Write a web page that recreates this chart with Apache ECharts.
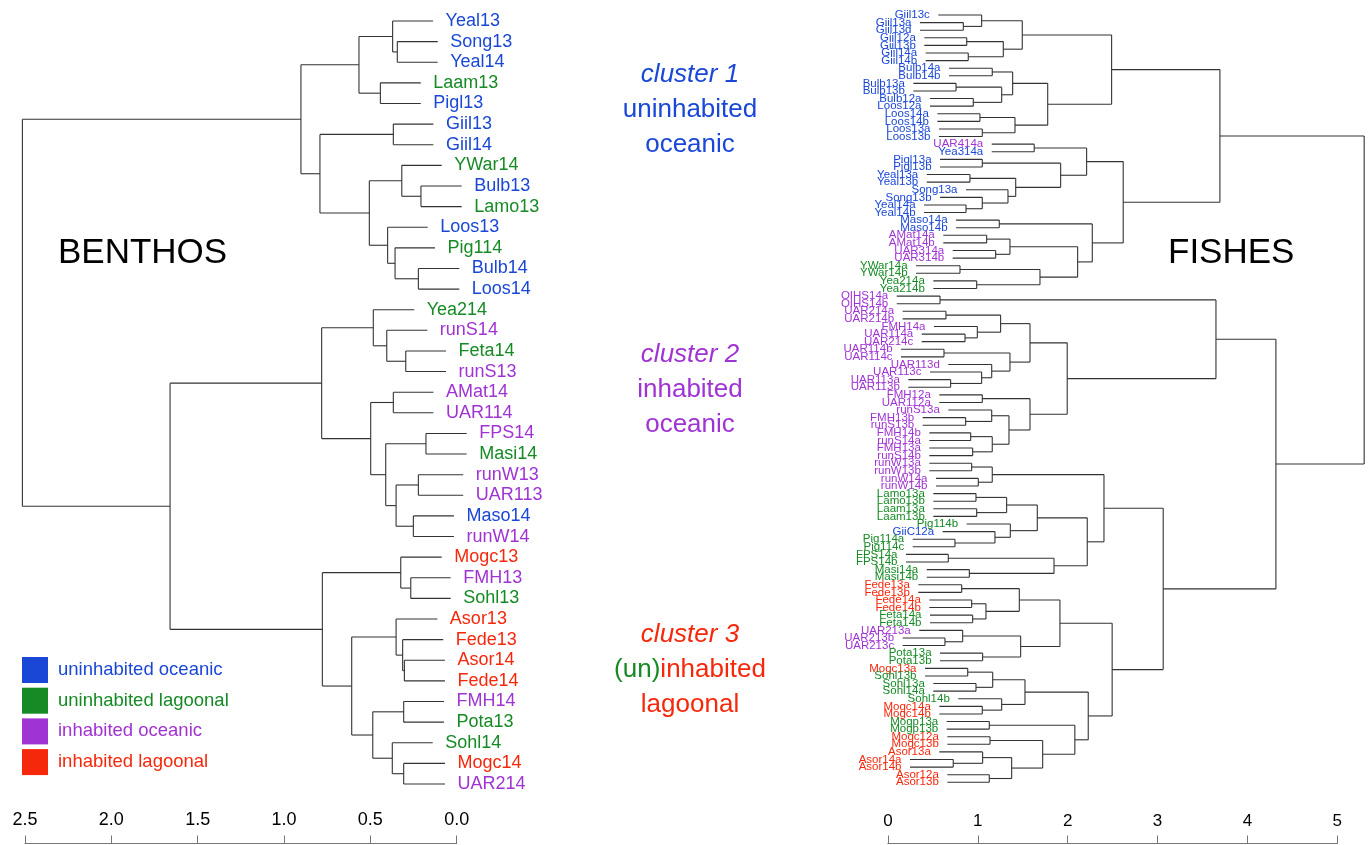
<!DOCTYPE html>
<html>
<head>
<meta charset="utf-8">
<script src="https://cdn.jsdelivr.net/npm/echarts@6/dist/echarts.min.js"></script>
<style>
html,body{margin:0;padding:0;background:#fff;}
#chart{width:1370px;height:845px;}
</style>
</head>
<body>
<div id="chart"></div>
<script>
// ---------- DATA ----------
const groupNames = ['uninhabited oceanic', 'uninhabited lagoonal', 'inhabited oceanic', 'inhabited lagoonal'];
const groupColors = ['#1a47d6', '#168a25', '#a033d3', '#f5280c'];

// BENTHOS dendrogram (height axis 2.5 -> 0)
const benthosLeaves = ['Yeal13','Song13','Yeal14','Laam13','Pigl13','Giil13','Giil14','YWar14','Bulb13','Lamo13','Loos13','Pig114','Bulb14','Loos14',
  'Yea214','runS14','Feta14','runS13','AMat14','UAR114','FPS14','Masi14','runW13','UAR113','Maso14','runW14',
  'Mogc13','FMH13','Sohl13','Asor13','Fede13','Asor14','Fede14','FMH14','Pota13','Sohl14','Mogc14','UAR214'];
const benthosGroups = [0,0,0,1,0,0,0,1,0,1,0,1,0,0, 1,2,1,2,2,2,2,1,2,2,0,2, 3,2,1,3,3,3,3,2,1,1,3,2];
const benthosTips = [0.137,0.110,0.110,0.208,0.208,0.135,0.135,0.087,-0.029,-0.029,0.168,0.126,-0.015,-0.015,
  0.246,0.170,0.062,0.062,0.135,0.135,-0.058,-0.058,-0.038,-0.038,0.016,0.016,
  0.087,0.035,0.035,0.112,0.078,0.068,0.068,0.074,0.074,0.139,0.068,0.068];
// merge rows: [childA, childB, height]; negative = leaf number, positive = earlier merge row
const benthosMerges = [
  [-2,-3,0.344],[-1,1,0.371],[-4,-5,0.442],[2,3,0.566],[-6,-7,0.367],[-9,-10,0.207],[-8,6,0.318],
  [-13,-14,0.222],[-12,8,0.357],[-11,9,0.400],[7,10,0.506],[5,11,0.792],[4,12,0.902],
  [-17,-18,0.295],[-16,14,0.405],[-15,15,0.483],[-19,-20,0.367],[-21,-22,0.178],[-23,-24,0.222],
  [-25,-26,0.251],[19,20,0.351],[18,21,0.411],[17,22,0.498],[16,23,0.782],
  [-28,-29,0.266],[-27,25,0.324],[-32,-33,0.303],[-31,27,0.313],[-30,28,0.351],[-34,-35,0.307],
  [-37,-38,0.307],[-36,31,0.373],[30,32,0.486],[29,33,0.608],[26,34,0.778],[24,35,1.660],[13,36,2.515]
];
const benthosTicks = [0, 0.5, 1.0, 1.5, 2.0, 2.5];

// FISHES dendrogram (height axis 0 -> 5)
const fishLeaves = ['Giil13c','Giil13a','Giil13d','Giil12a','Giil13b','Giil14a','Giil14b','Bulb14a','Bulb14b','Bulb13a',
  'Bulb13b','Bulb12a','Loos12a','Loos14a','Loos14b','Loos13a','Loos13b','UAR414a','Yea314a','Pigl13a',
  'Pigl13b','Yeal13a','Yeal13b','Song13a','Song13b','Yeal14a','Yeal14b','Maso14a','Maso14b','AMat14a',
  'AMat14b','UAR314a','UAR314b','YWar14a','YWar14b','Yea214a','Yea214b','OIHS14a','OIHS14b','UAR214a',
  'UAR214b','FMH14a','UAR114a','UAR214c','UAR114b','UAR114c','UAR113d','UAR113c','UAR113a','UAR113b',
  'FMH12a','UAR112a','runS13a','FMH13b','runS13b','FMH14b','runS14a','FMH13a','runS14b','runW13a',
  'runW13b','runW14a','runW14b','Lamo13a','Lamo13b','Laam13a','Laam13b','Pig114b','GiiC12a','Pig114a',
  'Pig114c','FPS14a','FPS14b','Masi14a','Masi14b','Fede13a','Fede13b','Fede14a','Fede14b','Feta14a',
  'Feta14b','UAR213a','UAR213b','UAR213c','Pota13a','Pota13b','Mogc13a','Sohl13b','Sohl13a','Sohl14a',
  'Sohl14b','Mogc14a','Mogc14b','Mogp13a','Mogp13b','Mogc12a','Mogc13b','Asor13a','Asor14a','Asor14b',
  'Asor12a','Asor13b'];
const fishGroups = [0,0,0,0,0,0,0,0,0,0, 0,0,0,0,0,0,0,2,0,0, 0,0,0,0,0,0,0,0,0,2,
  2,2,2,1,1,1,1,2,2,2, 2,2,2,2,2,2,2,2,2,2, 2,2,2,2,2,2,2,2,2,2,
  2,2,2,1,1,1,1,1,0,1, 1,1,1,1,1,3,3,3,3,1, 1,2,2,2,1,1,3,1,1,1,
  1,3,3,1,1,3,3,3,3,3, 3,3];
const fishTips = [0.561,0.357,0.357,0.405,0.405,0.420,0.420,0.680,0.680,0.283,
  0.283,0.468,0.468,0.550,0.550,0.568,0.568,1.155,1.155,0.580,
  0.580,0.432,0.432,0.869,0.580,0.402,0.402,0.758,0.758,0.616,
  0.616,0.721,0.721,0.313,0.313,0.505,0.505,0.098,0.098,0.164,
  0.164,0.513,0.376,0.376,0.146,0.146,0.672,0.468,0.227,0.227,
  0.572,0.572,0.672,0.387,0.387,0.461,0.461,0.461,0.461,0.461,
  0.461,0.535,0.535,0.505,0.505,0.505,0.505,0.876,0.609,0.276,
  0.276,0.201,0.201,0.432,0.432,0.338,0.338,0.461,0.461,0.468,
  0.468,0.349,0.164,0.164,0.580,0.580,0.413,0.413,0.505,0.505,
  0.783,0.572,0.572,0.654,0.654,0.661,0.661,0.572,0.246,0.246,
  0.661,0.661];
const fishMerges = [
  [-2,-3,0.839],[-1,1,1.043],[-4,-5,0.877],[-6,-7,0.894],[3,4,1.284],[2,5,1.495],[-8,-9,1.161],
  [-10,-11,0.758],[-12,-13,0.950],[8,9,1.266],[7,10,1.388],[-14,-15,1.024],[-16,-17,1.050],[12,13,1.414],
  [11,14,1.778],[6,15,2.489],[-18,-19,1.628],[-20,-21,1.050],[-22,-23,0.913],[-26,-27,0.869],[-25,20,1.050],
  [-24,21,1.336],[19,22,1.422],[18,23,1.922],[17,24,2.211],[-28,-29,1.239],[-30,-31,1.099],[-32,-33,1.199],
  [27,28,1.358],[-34,-35,0.802],[-36,-37,0.988],[30,31,1.692],[29,32,2.111],[26,33,2.274],[25,34,2.618],
  [16,35,3.694],[-38,-39,0.580],[-40,-41,0.646],[-43,-44,0.858],[-42,39,0.995],[38,40,1.254],[-45,-46,0.624],
  [-49,-50,0.698],[-48,43,1.043],[-47,44,1.155],[42,45,1.358],[41,46,1.581],[-51,-52,1.050],[-54,-55,0.865],
  [-53,49,1.155],[-56,-57,0.921],[-58,-59,0.943],[51,52,1.161],[50,53,1.347],[48,54,1.581],[47,55,1.995],
  [37,56,3.650],[-60,-61,0.932],[-62,-63,1.006],[58,59,1.161],[-64,-65,0.980],[-66,-67,0.988],[61,62,1.321],
  [-70,-71,0.746],[-69,64,1.191],[-68,65,1.362],[63,66,1.662],[-72,-73,0.672],[-74,-75,0.906],[68,69,1.848],
  [67,70,2.218],[60,71,2.404],[-76,-77,0.821],[-78,-79,0.932],[-80,-81,0.943],[74,75,1.091],[73,76,1.462],
  [-83,-84,0.635],[-82,78,0.832],[-85,-86,1.054],[79,80,1.477],[77,81,1.914],[-87,-88,0.888],[-89,-90,0.980],
  [83,84,1.166],[-92,-93,1.050],[-91,86,1.266],[85,87,1.525],[-94,-95,1.128],[-96,-97,1.136],[-99,-100,0.727],
  [-98,91,1.054],[-101,-102,1.128],[92,93,1.377],[90,94,1.722],[89,95,2.080],[88,96,2.229],[82,97,2.495],
  [72,98,3.063],[57,99,4.317],[36,100,5.299]
];
const fishTicks = [0, 1, 2, 3, 4, 5];

// ---------- BUILD ----------
function buildSegments(tips, merges) {
  const nx = [], ny = [], segs = [];
  const pos = c => c < 0 ? [tips[-c - 1], -c] : [nx[c - 1], ny[c - 1]];
  merges.forEach(m => {
    const a = pos(m[0]), b = pos(m[1]), h = m[2];
    segs.push([a[0], a[1], h, a[1]]);
    segs.push([b[0], b[1], h, b[1]]);
    segs.push([h, a[1], h, b[1]]);
    nx.push(h); ny.push((a[1] + b[1]) / 2);
  });
  return segs;
}
const FONT = "'Liberation Sans', Arial, Helvetica, sans-serif";
const LINE = '#333333';

function segRender(params, api) {
  const p1 = api.coord([api.value(0), api.value(1)]);
  const p2 = api.coord([api.value(2), api.value(3)]);
  return { type: 'line', shape: { x1: p1[0], y1: p1[1], x2: p2[0], y2: p2[1] },
    style: { stroke: LINE, lineWidth: 1.1 } };
}
function leafData(tips, names, groups) {
  return tips.map((t, i) => ({ value: [t, i + 1], name: names[i],
    label: { color: groupColors[groups[i]] } }));
}

const chart = echarts.init(document.getElementById('chart'), null, { renderer: 'canvas' });

const axisCommon = {
  type: 'value', position: 'bottom',
  axisLine: { show: true, lineStyle: { color: '#777', width: 1 } },
  axisTick: { show: true, inside: true, length: 8, lineStyle: { color: '#777' } },
  splitLine: { show: false },
  axisLabel: { inside: true, margin: 14, color: '#000', fontFamily: FONT }
};

const option = {
  animation: false,
  backgroundColor: '#fff',
  grid: [
    { left: 25, top: 21, width: 431.7, height: 763 },
    { left: 887.9, top: 15, width: 449.4, height: 767.3 }
  ],
  xAxis: [
    Object.assign({}, axisCommon, { gridIndex: 0, min: benthosTicks[0], max: benthosTicks[benthosTicks.length - 1],
      interval: 0.5, inverse: true, offset: 59.5,
      axisLabel: Object.assign({}, axisCommon.axisLabel, { fontSize: 18, formatter: v => v.toFixed(1) }) }),
    Object.assign({}, axisCommon, { gridIndex: 1, min: fishTicks[0], max: fishTicks[fishTicks.length - 1],
      interval: 1, offset: 61.2,
      axisLabel: Object.assign({}, axisCommon.axisLabel, { fontSize: 17, formatter: v => String(v) }) })
  ],
  yAxis: [
    { type: 'value', gridIndex: 0, min: 1, max: benthosLeaves.length, inverse: true, show: false },
    { type: 'value', gridIndex: 1, min: 1, max: fishLeaves.length, inverse: true, show: false }
  ],
  legend: {
    orient: 'vertical', left: 22, top: 657, padding: 0, itemGap: 4.7,
    itemWidth: 26, itemHeight: 26, icon: 'rect', selectedMode: false,
    textStyle: { fontSize: 18.5, fontFamily: FONT, padding: [0, 0, 0, 5] },
    data: groupNames.map((n, i) => ({ name: n, textStyle: { color: groupColors[i] },
      itemStyle: { color: groupColors[i], opacity: 1 } }))
  },
  series: [
    { type: 'custom', xAxisIndex: 0, yAxisIndex: 0, renderItem: segRender, clip: false, silent: true,
      data: buildSegments(benthosTips, benthosMerges) },
    { type: 'custom', xAxisIndex: 1, yAxisIndex: 1, renderItem: segRender, clip: false, silent: true,
      data: buildSegments(fishTips, fishMerges) },
    { type: 'scatter', xAxisIndex: 0, yAxisIndex: 0, symbolSize: 1, clip: false, silent: true,
      itemStyle: { color: 'rgba(0,0,0,0)', opacity: 1 },
      label: { show: true, position: 'right', distance: 12, fontSize: 18, fontFamily: FONT, formatter: p => p.name },
      data: leafData(benthosTips, benthosLeaves, benthosGroups) },
    { type: 'scatter', xAxisIndex: 1, yAxisIndex: 1, symbolSize: 1, clip: false, silent: true,
      itemStyle: { color: 'rgba(0,0,0,0)', opacity: 1 },
      label: { show: true, position: 'left', distance: 8, fontSize: 11.5, fontFamily: FONT, formatter: p => p.name },
      data: leafData(fishTips, fishLeaves, fishGroups) }
  ].concat(groupNames.map((n, i) => ({ type: 'scatter', name: n, data: [],
    itemStyle: { color: groupColors[i], opacity: 1 } }))),
  graphic: [
    { type: 'text', left: 58, top: 236, style: { text: 'BENTHOS', fontSize: 35, fontFamily: FONT, fill: '#000' } },
    { type: 'text', left: 1168, top: 236, style: { text: 'FISHES', fontSize: 35, fontFamily: FONT, fill: '#000' } },
    { type: 'text', x: 690, y: 75, style: { text: 'cluster 1', fontSize: 26, fontStyle: 'italic', fontFamily: FONT, fill: groupColors[0], align: 'center', verticalAlign: 'middle' } },
    { type: 'text', x: 690, y: 110, style: { text: 'uninhabited', fontSize: 26, fontFamily: FONT, fill: groupColors[0], align: 'center', verticalAlign: 'middle' } },
    { type: 'text', x: 690, y: 145, style: { text: 'oceanic', fontSize: 26, fontFamily: FONT, fill: groupColors[0], align: 'center', verticalAlign: 'middle' } },
    { type: 'text', x: 690, y: 355, style: { text: 'cluster 2', fontSize: 26, fontStyle: 'italic', fontFamily: FONT, fill: groupColors[2], align: 'center', verticalAlign: 'middle' } },
    { type: 'text', x: 690, y: 390, style: { text: 'inhabited', fontSize: 26, fontFamily: FONT, fill: groupColors[2], align: 'center', verticalAlign: 'middle' } },
    { type: 'text', x: 690, y: 425, style: { text: 'oceanic', fontSize: 26, fontFamily: FONT, fill: groupColors[2], align: 'center', verticalAlign: 'middle' } },
    { type: 'text', x: 690, y: 635, style: { text: 'cluster 3', fontSize: 26, fontStyle: 'italic', fontFamily: FONT, fill: groupColors[3], align: 'center', verticalAlign: 'middle' } },
    { type: 'text', x: 690, y: 670, style: { text: '{g|(un)}{r|inhabited}', fontSize: 26, fontFamily: FONT, align: 'center', verticalAlign: 'middle',
      rich: { g: { fill: groupColors[1], fontSize: 26, fontFamily: FONT }, r: { fill: groupColors[3], fontSize: 26, fontFamily: FONT } } } },
    { type: 'text', x: 690, y: 705, style: { text: 'lagoonal', fontSize: 26, fontFamily: FONT, fill: groupColors[3], align: 'center', verticalAlign: 'middle' } }
  ]
};
chart.setOption(option);
</script>
</body>
</html>
